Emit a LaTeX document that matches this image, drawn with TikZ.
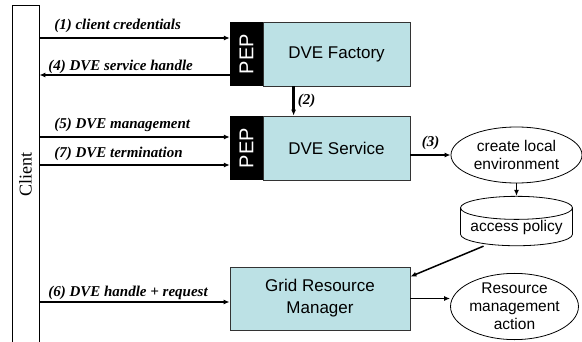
\documentclass[tikz,border=0pt]{standalone}
\usepackage{fontspec}
\setmainfont{Liberation Serif}
\newfontfamily\arialfont{Liberation Sans}
\usetikzlibrary{shapes,arrows.meta}
\definecolor{boxblue}{RGB}{188,225,229}
\tikzstyle{flow}=[->,line width=1.8pt]
\tikzstyle{lbl}=[font=\fontsize{15}{17}\selectfont\bfseries\itshape,inner sep=0pt]
\tikzstyle{service}=[rectangle,draw=black!80,line width=0.8pt,fill=boxblue,
  			  minimum width=147pt,minimum height=64pt,align=center,inner sep=0pt,
  			  font=\arialfont\fontsize{17}{22}\selectfont]
\tikzstyle{pep}=[rectangle,fill=black,text=white,rotate=90,inner sep=0pt,
  			  minimum width=64pt,minimum height=33pt,font=\arialfont\fontsize{20}{22}\selectfont]
\tikzstyle{action}=[ellipse,draw,line width=0.8pt,fill=white,align=center,inner sep=0pt,
  			  minimum width=131pt,minimum height=56pt,font=\arialfont\fontsize{15.5}{18}\selectfont]
\tikzstyle{store}=[cylinder,shape border rotate=90,aspect=0.25,draw,line width=0.8pt,
  			  minimum width=112pt,minimum height=43pt,inner sep=0pt,
  			  font=\arialfont\fontsize{15.5}{18}\selectfont]
\tikzstyle{clientbar}=[rectangle,draw,line width=0.8pt,rotate=90,
  			  minimum width=340pt,minimum height=27pt,font=\fontsize{18}{20}\selectfont]

\begin{document}
\begin{tikzpicture}[>={Latex[length=6pt,width=5pt]},x=1pt,y=1pt,node distance=94pt]
	\useasboundingbox (0,0) rectangle (582,341);
	\node[clientbar] (client) at (25.5,166) {Client};
	\node[service] (fact) at (336.5,287) {DVE Factory};
	\node[service] (serv) [below of=fact] {DVE Service};
	\node[pep] (fpep) at ([xshift=-90pt]fact.center) {PEP};
	\node[pep] (spep) at ([xshift=-90pt]serv.center) {PEP};
	\node[service,minimum width=180pt,minimum height=63pt] (grm) at (320,42.5) {Grid Resource\\Manager};
	\node[action] (env) at (516.5,186) {create local\\environment};
	\node[store] (pol) [below of=env,node distance=72pt] {access policy};
	\node[action,minimum width=127pt,minimum height=53pt] (act) at (514.5,34.5) {Resource\\management\\action};

  % client <-> PEPs (rotated PEP: its north side faces the client)
  \draw [flow] ([yshift=16pt]fpep.north -| client.south) -- node[lbl,pos=0,anchor=base west,xshift=14pt,yshift=8pt] {(1) client credentials} ([yshift=16pt]fpep.north);
  \draw [flow] ([yshift=-21pt]fpep.north) -- node[lbl,pos=1,anchor=base west,xshift=8pt,yshift=4pt] {(4) DVE service handle} ([yshift=-21pt]fpep.north -| client.south);
  \draw [flow] ([yshift=11pt]spep.north -| client.south) -- node[lbl,pos=0,anchor=base west,xshift=14pt,yshift=9pt] {(5) DVE management} ([yshift=11pt]spep.north);
  \draw [flow] ([yshift=-17pt]spep.north -| client.south) -- node[lbl,pos=0,anchor=base west,xshift=14pt,yshift=8pt] {(7) DVE termination} ([yshift=-17pt]spep.north);
  \draw [flow] ([yshift=-3.5pt]grm.west -| client.south) -- node[lbl,pos=0,anchor=base west,xshift=8pt,yshift=6pt] {(6) DVE handle + request} ([yshift=-3.5pt]grm.west);

  % factory -> service -> environment
  \draw [flow,line width=2.5pt] ([xshift=31pt]fact.south west) -- node[lbl,right,xshift=3pt] {(2)} ([xshift=31pt]serv.north west);
  \draw [flow] (serv.east |- env.west) -- node[lbl,above,yshift=4pt] {(3)} (env.west);
  \draw [flow,line width=1.5pt] (env.south) -- (env.south |- pol.north);
  \draw [flow,line width=1.5pt] ([xshift=-33pt]pol.south) -- ([yshift=-10pt]grm.north east);
  \draw [flow] (grm.east) -- (grm.east -| act.west);
\end{tikzpicture}
\end{document}
